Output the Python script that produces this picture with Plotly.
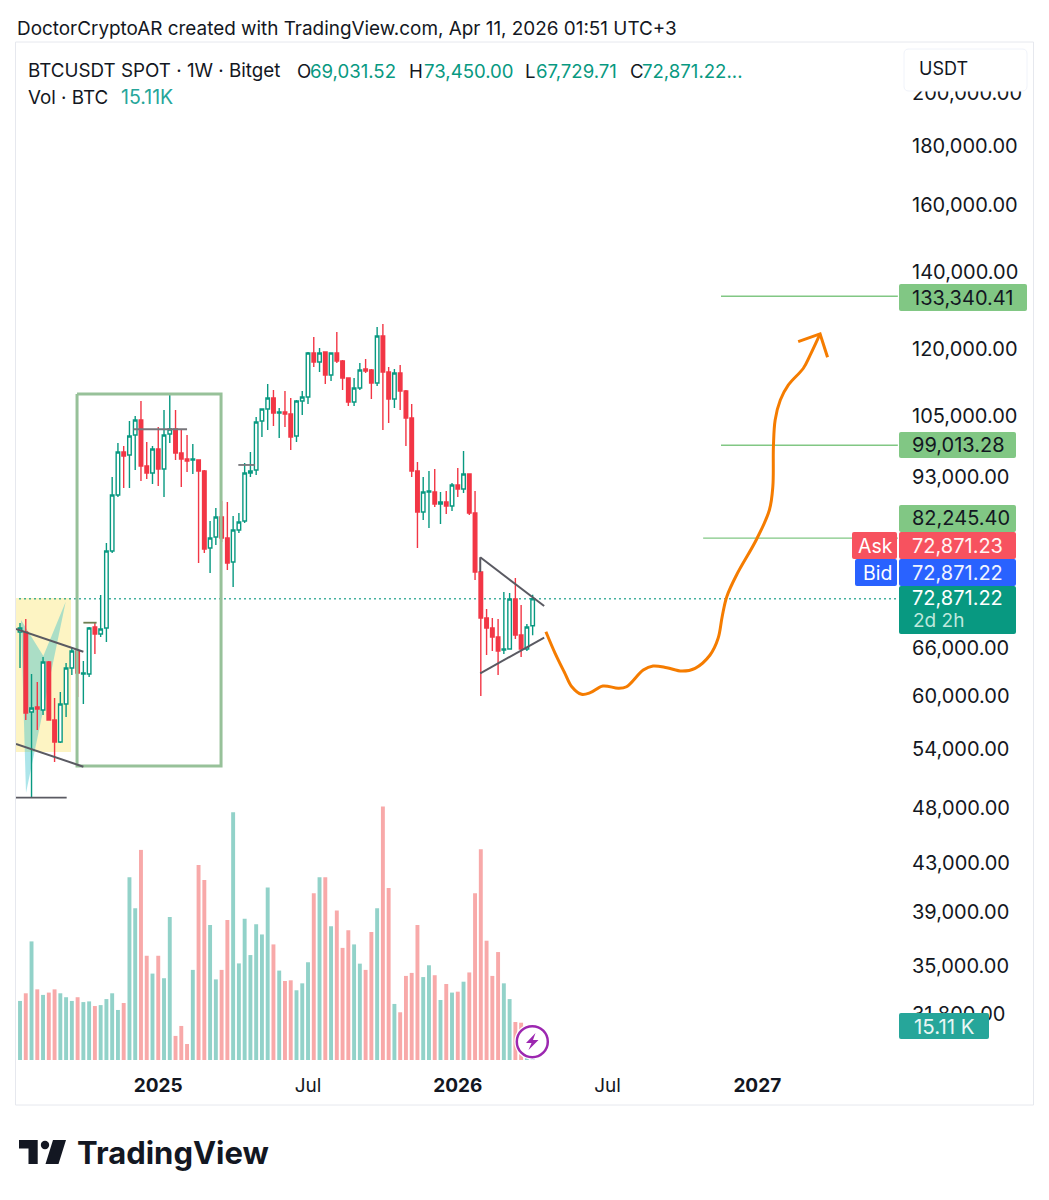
import pandas as pd
import plotly.graph_objects as go

FONT = "Inter"
first_week = pd.Timestamp("2024-07-22")
weeks = pd.date_range(first_week, periods=90, freq="7D")

opens = [68180,68180,58110,58695,58342,64216,57190,54731,59048,63451,
65642,62696,62696,68868,67912,68730,80159,89652,97691,97110,
101069,104139,94999,93679,98279,94429,101270,102286,97497,96335,
96141,96141,94051,80642,82435,85796,82270,78417,83593,85110,
93679,94239,103932,106455,108822,105609,105819,105399,100867,108166,
109040,119059,116936,119296,113941,119059,117168,113259,107955,111018,
115312,115080,112133,123174,114624,108603,114396,110352,104559,94051,
86656,90189,90189,88054,88405,87703,91461,90730,93492,86484,
76866,70117,68730,67506,65773,65905,72829,67776,65905,69031.52]
highs = [69420,69980,62696,61700,64862,64343,59760,60480,64088,66170,
65642,64343,68868,69420,73416,81452,92934,99465,98872,103932,
104979,108166,99663,98872,102697,106241,109478,106241,102080,101069,
99267,96141,94239,85110,87352,88580,88405,85968,86484,95569,
97691,104769,106455,111910,110572,106670,110352,108822,108385,110352,
119296,122928,120255,119296,119059,124159,117402,113259,113259,116704,
117639,115312,125409,126163,115776,115312,116240,110572,107526,95759,
92934,94051,94429,90189,90368,91826,94619,97885,93492,90368,
76866,71389,70117,69977,73855,73709,75951,71964,69282,73450]
lows = [63450,57190,48941,56058,57765,57190,52589,54623,57535,62571,
59880,59048,62321,65252,67506,66833,79841,89294,90913,90913,
94239,92191,92561,91643,91278,89294,99465,96141,91095,93865,
93492,78262,79841,76714,81128,81614,77173,74598,83096,84773,
92934,93306,100665,102080,102903,100464,102697,98081,99663,105189,
107526,115776,114624,111910,112579,116704,110572,107098,107098,110572,
114396,108603,111464,102080,103520,106670,106241,98872,92934,80642,
85280,83930,87528,84604,86312,86828,89294,90010,86140,75645,
60000,65122,65642,62571,65252,65905,67235,64862,65642,67729.71]
closes = [68730,58000,58578,58460,64216,57190,54731,59048,63451,65642,
62821,62821,68730,67912,68592,80159,89652,97691,96916,100867,
104139,94999,93679,98279,94429,101069,102286,97497,96335,95947,
96335,94051,80480,82270,85796,82270,78262,83593,84941,93679,
94051,103726,106455,108822,105609,105819,105399,100665,108166,109040,
119059,116936,119059,113941,119059,117168,113259,107955,111018,115080,
114851,112133,123174,114624,108603,114396,110352,104559,94051,86656,
90189,90368,88054,88405,87703,91461,90730,93492,86484,76866,
70117,68730,67506,65642,65905,72829,67776,65905,68868,72871.22]
volumes_k = [25.5,28.8,51.2,30.5,28.1,29.1,30.5,28.8,27.1,25.5,
27.1,25.0,25.3,23.3,23.7,26.3,28.8,21.6,24.6,78.9,
65.5,90.7,45.0,37.3,45.0,35.3,61.7,10.4,14.7,6.9,
38.9,84.2,77.7,58.3,34.8,38.9,60.4,106.9,41.7,61.0,
45.3,58.6,54.2,74.5,49.9,38.6,34.1,34.4,30.1,33.1,
42.2,72.0,78.9,78.9,57.7,64.5,48.4,56.0,49.9,41.6,
38.9,55.3,65.5,109.4,74.3,24.2,20.6,36.3,37.6,58.3,
35.8,40.9,36.6,25.9,32.8,29.1,29.5,33.8,37.8,72.0,
91.0,51.5,36.3,46.6,33.1,26.3,16.4,16.1,12.0,15.11]

price_ticks = [200000,180000,160000,140000,120000,105000,93000,66000,60000,54000,48000,43000,39000,35000,31800]
time_tick_dates = ["2025-01-06","2025-07-07","2026-01-05","2026-07-06","2027-01-04"]
time_tick_text = ["<b>2025</b>","Jul","<b>2026</b>","Jul","<b>2027</b>"]

last_price = 72871.22
level_133 = 133340.41
level_99 = 99013.28
level_82 = 82245.40

# Drawings: offset in weeks from the first candle, and price
orange_w = [91.3,92.9,94.6,95.8,97.5,99.0,101.2,103.9,105.3,108.2,109.9,112.3,114.9,117.2,119.8,121.2,121.9,122.7,124.4,127.9,130.1,130.7,130.8,131.1,132.0,133.4,136.0,137.2,138.9]
orange_p = [68223,65343,62783,61125,60204,60396,61211,60930,61125,63196,63706,63489,63070,63413,65122,67330,70300,73166,76409,82104,87001,91150,98734,104139,108385,111687,115474,118586,123667]
arrow_w = [135.1,138.9,140.2]
arrow_p = [121776,123667,118041]
pattern_w = [0.17,4.05,7.93,1.04,0.17]
pattern_p = [69836,64992,72438,49433,69836]

GREEN = "#089981"; RED = "#f23645"; INK = "#131722"
END_W = 152.4

def wk(w):
    return first_week + pd.Timedelta(days=float(w) * 7)

def wks(ws):
    return [wk(w) for w in ws]

# chrome placement helpers: page pixels -> paper
L, R, T, B = 16, 898, 44, 1060
def fx(px): return (px - L) / (R - L)
def fy(py): return (B - py) / (B - T)

fig = go.Figure()

def poly_under(ws, ps, fill):
    fig.add_trace(go.Scatter(x=wks(ws), y=ps, mode="lines", line=dict(width=0), fill="toself",
                             fillcolor=fill, hoverinfo="skip", yaxis="y"))

poly_under([-0.7, 8.85, 8.85, -0.7, -0.7], [72976, 72976, 53650, 53650, 72976], "#fdf4c3")
poly_under(pattern_w, pattern_p, "rgba(47,190,202,0.4)")
fig.add_trace(go.Scatter(x=wks([-1, END_W]), y=[last_price, last_price], mode="lines",
                         line=dict(color=GREEN, width=1.5, dash="1.5px,3.5px"), hoverinfo="skip", yaxis="y"))

fig.add_trace(go.Bar(x=weeks, y=volumes_k, yaxis="y2", hoverinfo="skip",
                     marker=dict(color=["#92d2c9" if c >= o else "#f8a9a9" for o, c in zip(opens, closes)], line=dict(width=0))))

fig.add_trace(go.Candlestick(x=weeks, open=opens, high=highs, low=lows, close=closes, yaxis="y3",
                             whiskerwidth=0, hoverinfo="skip",
                             increasing=dict(line=dict(color=GREEN, width=1.4), fillcolor="#ffffff"),
                             decreasing=dict(line=dict(color=RED, width=1.4), fillcolor=RED)))

def draw(ws, ps, color, width, shape="linear"):
    fig.add_trace(go.Scatter(x=wks(ws), y=ps, mode="lines", hoverinfo="skip", yaxis="y3",
                             line=dict(color=color, width=width, shape=shape)))

DARK = "#5a5a62"
draw([9.9, 34.9, 34.9, 9.9, 9.9], [109696, 109696, 52172, 52172, 109696], "#97c199", 3)
draw([-0.7, 11.0], [68592, 65551], DARK, 2)
draw([-0.7, 11.0], [54514, 52099], DARK, 2)
draw([-0.7, 8.1], [48971, 48971], DARK, 1.8)
draw([11.0, 13.3], [69461, 69461], "#6f7f52", 1.8)
draw([19.7, 29.0], [102224, 102224], "#77767b", 1.8)
draw([37.9, 40.8], [95189, 95189], "#77767b", 1.8)
draw([79.9, 91.0], [79159, 71820], DARK, 2)
draw([79.9, 91.0], [62783, 67411], DARK, 2)
draw([79.9, 79.9], [79159, 76866], DARK, 2)
draw([121.7, END_W], [level_133, level_133], "#81c784", 1.4)
draw([121.7, END_W], [level_99, level_99], "#81c784", 1.4)
draw([118.6, END_W], [level_82, level_82], "#81c784", 1.4)
draw(orange_w, orange_p, "#f57c00", 3, "spline")
draw(arrow_w, arrow_p, "#f57c00", 3)

def rrect(x0, y0, x1, y1, r, fill, line=None, lw=0):
    X0, X1 = fx(x0), fx(x1)
    Y0, Y1 = fy(y0), fy(y1)
    rx = r / (R - L); ry = r / (B - T)
    p = (f"M {X0+rx} {Y0} L {X1-rx} {Y0} Q {X1} {Y0} {X1} {Y0-ry} L {X1} {Y1+ry} Q {X1} {Y1} {X1-rx} {Y1} "
         f"L {X0+rx} {Y1} Q {X0} {Y1} {X0} {Y1+ry} L {X0} {Y0-ry} Q {X0} {Y0} {X0+rx} {Y0} Z")
    return dict(type="path", xref="paper", yref="paper", path=p, fillcolor=fill,
                line=dict(color=line or fill, width=lw), layer="above")

def path_px(pts, fill):
    s = "M " + " L ".join(f"{fx(x)} {fy(y)}" for x, y in pts) + " Z"
    return dict(type="path", xref="paper", yref="paper", path=s, fillcolor=fill, line=dict(width=0), layer="above")

def circle_px(cx, cy, r, fill, line=None, lw=0):
    return dict(type="circle", xref="paper", yref="paper", x0=fx(cx - r), x1=fx(cx + r), y0=fy(cy + r), y1=fy(cy - r),
                fillcolor=fill, line=dict(color=line or fill, width=lw), layer="above")

shapes = [
    dict(type="rect", xref="paper", yref="paper", x0=fx(15.5), x1=fx(1033.5), y0=fy(1105), y1=fy(42),
         fillcolor="rgba(0,0,0,0)", line=dict(color="#e6e8ee", width=1), layer="above"),
    rrect(904, 49, 1027, 91, 5, "#ffffff", "#f0f3fa", 1),
    rrect(899, 284, 1027, 311, 2, "#81c784"),
    rrect(899, 432, 1016, 458, 2, "#81c784"),
    rrect(899, 505, 1016, 532, 2, "#81c784"),
    rrect(852, 532, 897, 559, 2, "#f7525f"),
    rrect(899, 532, 1016, 559, 2, "#f7525f"),
    rrect(855, 559, 897, 586, 2, "#2962ff"),
    rrect(899, 559, 1016, 586, 2, "#2962ff"),
    rrect(899, 586, 1016, 634, 2, "#089981"),
    rrect(899, 1013, 989, 1039, 2, "#26a69a"),
    circle_px(532.3, 1041.7, 18, "#ffffff"),
    circle_px(532.3, 1041.7, 15.5, "#ffffff", "#9c27b0", 2.5),
    path_px([(535.5, 1033), (526, 1043), (531.5, 1043), (528.5, 1050), (538.5, 1040), (533, 1040)], "#9c27b0"),
    path_px([(19, 1140), (37.7, 1140), (37.7, 1164), (28.5, 1164), (28.5, 1148.5), (19, 1148.5)], "#131722"),
    circle_px(45, 1145, 4.2, "#131722"),
    path_px([(53, 1140), (66, 1140), (58.5, 1164), (45.5, 1164)], "#131722"),
]

annos = []
def text(px, py, s, size=18, color=INK, anchor="left", weight=None):
    if weight:
        s = f"<b>{s}</b>"
    annos.append(dict(xref="paper", yref="paper", x=fx(px), y=fy(py), text=s, showarrow=False, xanchor=anchor, yanchor="middle",
                      borderpad=0, font=dict(family=FONT, size=size, color=color)))

text(16, 28, "DoctorCryptoAR created with TradingView.com, Apr 11, 2026 01:51 UTC+3", 18.9)
text(27, 71, "BTCUSDT SPOT · 1W · Bitget", 18.8)
for px, s, col in [(296, "O", INK), (309, "69,031.52", GREEN), (408, "H", INK), (423, "73,450.00", GREEN),
                   (524, "L", INK), (535, "67,729.71", GREEN), (629, "C", INK), (641, "72,871.22...", GREEN)]:
    text(px, 71, s, 18.6, col)
text(27, 97, "Vol · BTC", 18.8)
text(120, 97, "15.11K", 19.5, "#26a69a")
text(918, 69, "USDT", 18)
text(911, 297.5, "133,340.41", 20)
text(911, 445.5, "99,013.28", 20)
text(911, 518, "82,245.40", 20)
text(911, 545.5, "72,871.23", 20, "#fff4f4")
text(911, 572.5, "72,871.22", 20, "#f0f4ff")
text(911, 597.5, "72,871.22", 20, "#ffffff")
text(912, 620, "2d 2h", 19, "#bfe8dd")
text(875, 545.5, "Ask", 19.5, "#ffffff", anchor="center")
text(877, 572.5, "Bid", 19.5, "#ffffff", anchor="center")
text(913, 1026, "15.11 K", 20.5, "#e8f7f4")
text(76, 1152, "TradingView", 31, "#131722", weight=True)

common_y = dict(type="log", range=[4.46236, 5.34379], domain=[0, 1])
fig.update_layout(
    width=1049, height=1200, paper_bgcolor="#ffffff", plot_bgcolor="#ffffff",
    margin=dict(l=L, r=1049 - R, t=T, b=1200 - B, pad=0),
    showlegend=False, bargap=0.32, boxgap=0.12, hovermode=False,
    font=dict(family=FONT, color=INK),
    xaxis=dict(type="date", range=["2024-07-17 03:00", "2027-06-24"], rangeslider=dict(visible=False),
               tickmode="array", tickvals=time_tick_dates, ticktext=time_tick_text,
               tickfont=dict(family=FONT, size=19, color=INK), showgrid=False, zeroline=False,
               showline=False, ticks="", ticklabelstandoff=12),
    yaxis=dict(**common_y, side="right", tickmode="array", tickvals=price_ticks,
               ticktext=[f"{p:,.2f}" for p in price_ticks], tickfont=dict(family=FONT, size=20, color=INK),
               showgrid=False, zeroline=False, showline=False, ticks="", ticklabelstandoff=13),
    yaxis2=dict(range=[0, 438.6], domain=[0, 1], overlaying="y", side="right", visible=False),
    yaxis3=dict(**common_y, overlaying="y", side="right", visible=False),
    shapes=shapes, annotations=annos,
)

fig.write_html("out.html", post_script="document.body.style.margin='0';", config=dict(displayModeBar=False))
